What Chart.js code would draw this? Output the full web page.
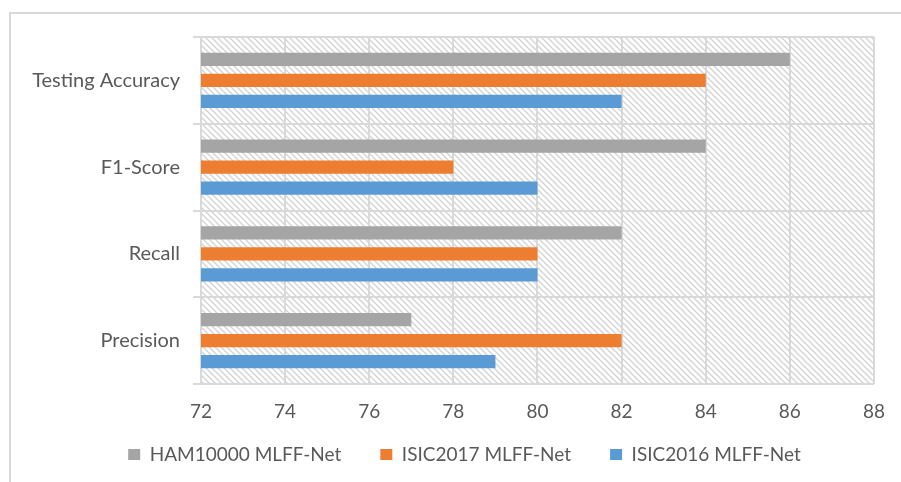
<!DOCTYPE html>
<html>
<head>
<meta charset="utf-8">
<script src="https://cdn.jsdelivr.net/npm/chart.js@4.4.1/dist/chart.umd.min.js"></script>
<style>
    html, body { margin: 0; padding: 0; background: #fff; overflow: hidden; }
    #frame {
        position: absolute; left: 9px; top: 12px; width: 1000px; height: 1000px;
        border-left: 2px solid #d9d9d9; border-top: 2px solid #d9d9d9;
    }
    #wrap { position: absolute; left: 0; top: 0; width: 901px; height: 482px; }
</style>
</head>
<body>
<div id="frame"></div>
<div id="wrap"><canvas id="chart" width="901" height="482"></canvas></div>
<script>
// Podaci
const categories = ['Testing Accuracy', 'F1-Score', 'Recall', 'Precision'];
const ham10000 = [86, 84, 82, 77];
const isic2017 = [84, 78, 80, 82];
const isic2016 = [82, 80, 80, 79];
const seriesNames = ['HAM10000 MLFF-Net', 'ISIC2017 MLFF-Net', 'ISIC2016 MLFF-Net'];
const xTicks = [72, 74, 76, 78, 80, 82, 84, 86, 88];

const textColor = '#595959';
const gridColor = '#d9d9d9';
const fontFamily = 'Lato, "Open Sans", sans-serif';

// Šrafura pozadine
function makeHatch() {
    const c = document.createElement('canvas');
    c.width = 6; c.height = 6;
    const g = c.getContext('2d');
    g.fillStyle = '#ffffff';
    g.fillRect(0, 0, 6, 6);
    g.strokeStyle = '#d2d2d2';
    g.lineWidth = 1.3;
    g.beginPath();
    g.moveTo(-1, -1); g.lineTo(7, 7);
    g.moveTo(-4, 2); g.lineTo(1, 7);
    g.moveTo(2, -4); g.lineTo(7, 1);
    g.stroke();
    return g.createPattern(c, 'repeat');
}

const hatchPlugin = {
    id: 'hatch',
    beforeDraw(chart) {
        const a = chart.chartArea;
        const ctx = chart.ctx;
        ctx.save();
        ctx.fillStyle = makeHatch();
        ctx.fillRect(a.left, a.top, a.right - a.left, a.bottom - a.top);
        ctx.restore();
    }
};

// Pomakni legendu (udesno i gore) kao na originalu
const legendShift = {
    id: 'legendShift',
    afterLayout(chart) {
        const lg = chart.legend;
        if (!lg) return;
        lg.left += 16; lg.right += 16;
        lg.top -= 12; lg.bottom -= 12;
    }
};

const ctx = document.getElementById('chart').getContext('2d');
new Chart(ctx, {
    type: 'bar',
    data: {
        labels: categories,
        datasets: [
            { label: seriesNames[0], data: ham10000, backgroundColor: '#a5a5a5' },
            { label: seriesNames[1], data: isic2017, backgroundColor: '#ed7d31' },
            { label: seriesNames[2], data: isic2016, backgroundColor: '#5b9bd5' }
        ]
    },
    options: {
        indexAxis: 'y',
        responsive: false,
        animation: false,
        categoryPercentage: 0.726,
        barPercentage: 0.64,
        layout: { padding: { left: 22, right: 26, top: 37, bottom: -4 } },
        plugins: {
            tooltip: { enabled: false },
            legend: {
                position: 'bottom',
                labels: {
                    boxWidth: 12,
                    boxHeight: 11,
                    padding: 39,
                    color: textColor,
                    font: { family: fontFamily, size: 19 }
                }
            }
        },
        scales: {
            x: {
                min: 72,
                max: 88,
                afterBuildTicks: function(scale) {
                    scale.ticks = xTicks.map(v => ({ value: v }));
                },
                afterFit: function(scale) { scale.height = 34; },
                grid: { color: gridColor, lineWidth: 2, drawTicks: false },
                border: { display: false },
                ticks: {
                    padding: 16,
                    color: textColor,
                    font: { family: fontFamily, size: 19 }
                }
            },
            y: {
                afterFit: function(scale) { scale.width = 179; },
                grid: { color: gridColor, lineWidth: 2, tickLength: 8, offset: true },
                border: { color: gridColor, width: 2 },
                ticks: {
                    padding: 13,
                    color: textColor,
                    font: { family: fontFamily, size: 20 }
                }
            }
        }
    },
    plugins: [hatchPlugin, legendShift]
});
</script>
</body>
</html>
